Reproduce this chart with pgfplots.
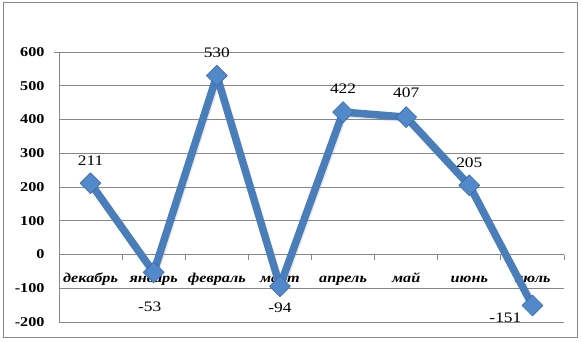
\documentclass[border=0pt]{standalone}
\usepackage{fontspec}
\setmainfont{Liberation Serif}[FakeStretch=1.2]
\usepackage{pgfplots}
\usepackage{pgfplotstable}
\pgfplotsset{compat=1.18}
\definecolor{ser}{HTML}{4A7EBB}
\definecolor{mk}{HTML}{5289CB}
\definecolor{mkd}{HTML}{3A69A3}
\definecolor{gridc}{HTML}{878787}
\newcommand\lf{\fontsize{13.5bp}{16bp}\selectfont}
\newcommand\df{\fontsize{14.5bp}{17bp}\selectfont}
\pgfplotstableread{
x y dx dy
0 211 0 23
1 -53 -4 -34
2 530 0 23
3 -94 0 -22
4 422 0 23
5 407 0 24
6 205 0 23
7 -151 -27 -12
}\data
\begin{document}
\begin{tikzpicture}[x=1bp,y=1bp]
\useasboundingbox (0,0) rectangle (581,341);
\draw[gridc, line width=0.8bp] (3,4) rectangle (577,339);
\begin{axis}[
  at={(59bp,19bp)}, anchor=south west,
  scale only axis, width=505bp, height=270bp,
  xmin=-0.5, xmax=7.5, ymin=-200, ymax=600,
  ytick={-200,-100,...,600},
  axis x line*=middle, axis y line*=left,
  ymajorgrids, grid style={gridc, line width=0.8bp, shorten <=-5bp},
  axis line style={gridc, line width=0.8bp, -},
  tick align=outside,
  major tick length=0bp, minor tick length=5bp,
  tick style={gridc, line width=0.8bp},
  xtick={0,...,7},
  xticklabels={декабрь,январь,февраль,март,апрель,май,июнь,июль},
  minor xtick={0.5,1.5,...,7.5},
  xticklabel style={font=\lf\bfseries\itshape, anchor=base, yshift=-28bp},
  yticklabel style={font=\lf\bfseries, xshift=-11bp},
  /pgf/number format/assume math mode=true,
  clip=false,
]
\addplot[gray, opacity=0.2, line width=7.5bp, line join=round, mark=none, xshift=1bp, yshift=-1.5bp] table[x=x,y=y] {\data};
\addplot[ser, line width=7.5bp, line join=round,
  mark=square*, mark size=7.4bp,
  mark options={rotate=45, fill=mk, draw=mkd, line width=0.6bp},
  visualization depends on={\thisrow{dx} \as \dx},
  visualization depends on={\thisrow{dy} \as \dy},
  nodes near coords,
  every node near coord/.append style={font=\df, text=black, anchor=center, xshift=\dx bp, yshift=\dy bp, inner sep=0pt},
] table[x=x,y=y] {\data};
\end{axis}
\end{tikzpicture}
\end{document}
